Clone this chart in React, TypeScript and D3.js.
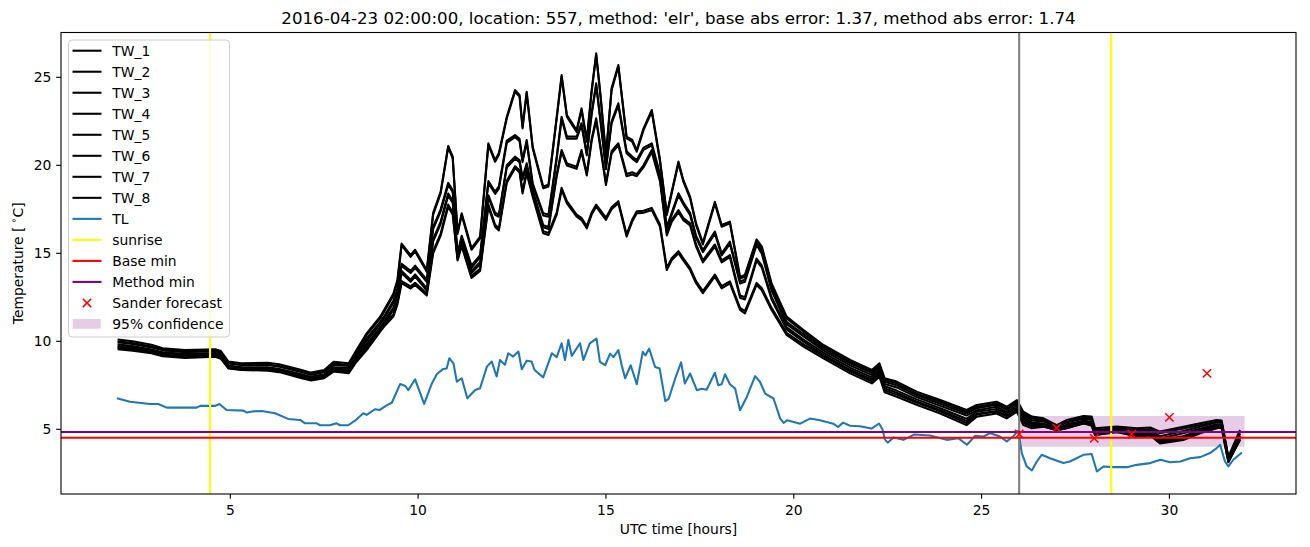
import React from "react";
import * as d3 from "d3";

// ---- data ----
const xTicks = [5, 10, 15, 20, 25, 30];
const yTicks = [5, 10, 15, 20, 25];

// TL (air temperature): [hour, value]
const tlData: [number, number][] = [
  [1.98, 6.76], [2.33, 6.57], [2.86, 6.44], [3.08, 6.44], [3.31, 6.23], [4.1, 6.23], [4.2, 6.33],
  [4.6, 6.33], [4.71, 6.44], [4.9, 6.1], [5.35, 6.06], [5.44, 5.95], [5.62, 6.02], [5.84, 6.04],
  [6.19, 5.91], [6.54, 5.59], [6.86, 5.53], [6.99, 5.34], [7.3, 5.34], [7.39, 5.23], [7.65, 5.23],
  [7.83, 5.34], [7.92, 5.23], [8.14, 5.23], [8.32, 5.49], [8.54, 5.91], [8.63, 5.82], [8.85, 6.14],
  [8.98, 6.1], [9.16, 6.36], [9.3, 6.51], [9.52, 7.57], [9.66, 7.46], [9.74, 7.23], [9.92, 7.84],
  [10.16, 6.44], [10.36, 7.57], [10.5, 8.14], [10.67, 8.43], [10.76, 8.45], [10.83, 9.04],
  [10.94, 8.75], [11.03, 7.71], [11.16, 7.9], [11.31, 6.76], [11.52, 7.23], [11.65, 7.33],
  [11.83, 8.56], [11.96, 8.85], [12.09, 8.0], [12.18, 8.94], [12.31, 8.66], [12.4, 9.32],
  [12.53, 9.13], [12.67, 9.42], [12.76, 8.41], [12.89, 8.9], [13.02, 8.85], [13.1, 8.37],
  [13.33, 7.95], [13.56, 9.32], [13.69, 9.1], [13.82, 9.89], [13.91, 8.94], [14.0, 10.08],
  [14.09, 9.17], [14.31, 9.89], [14.4, 8.94], [14.57, 9.88], [14.75, 10.15], [14.84, 8.83],
  [14.98, 8.64], [15.11, 9.3], [15.2, 9.1], [15.33, 9.5], [15.42, 8.64], [15.51, 7.9],
  [15.66, 8.64], [15.82, 7.56], [15.98, 9.4], [16.05, 9.2], [16.15, 9.58], [16.31, 8.54],
  [16.43, 8.45], [16.58, 6.6], [16.67, 6.73], [16.84, 7.86], [17.0, 8.81], [17.1, 7.6],
  [17.24, 8.17], [17.42, 7.22], [17.55, 7.31], [17.68, 7.25], [17.9, 8.21], [17.99, 7.5],
  [18.08, 7.56], [18.17, 8.13], [18.3, 7.56], [18.44, 7.31], [18.57, 6.08], [18.75, 6.84],
  [18.97, 8.02], [19.1, 7.7], [19.24, 7.03], [19.46, 6.75], [19.64, 5.61], [19.73, 5.36],
  [19.82, 5.51], [20.0, 5.42], [20.17, 5.32], [20.43, 5.61], [20.7, 5.51], [21.05, 5.32],
  [21.18, 5.13], [21.31, 5.38], [21.5, 5.2], [21.76, 5.17], [22.07, 5.04], [22.27, 5.33],
  [22.36, 5.0], [22.43, 4.41], [22.5, 4.24], [22.66, 4.54], [22.92, 4.4], [23.2, 4.7],
  [23.63, 4.65], [23.81, 4.55], [24.07, 4.4], [24.38, 4.5], [24.61, 4.12], [24.83, 4.63],
  [25.05, 4.59], [25.23, 4.78], [25.49, 4.59], [25.67, 4.31], [25.84, 4.59], [25.98, 4.93],
  [26.07, 3.65], [26.2, 2.89], [26.34, 2.66], [26.47, 3.17], [26.6, 3.55], [26.82, 3.36],
  [27.18, 3.08], [27.35, 3.17], [27.71, 3.55], [27.93, 3.6], [28.07, 2.6], [28.25, 2.89],
  [28.51, 2.85], [28.87, 2.85], [29.13, 2.98], [29.49, 3.08], [29.76, 3.27], [30.02, 3.13],
  [30.29, 3.17], [30.55, 3.36], [30.82, 3.42], [31.08, 3.65], [31.26, 3.93], [31.35, 4.12],
  [31.48, 3.17], [31.57, 2.89], [31.7, 3.27], [31.93, 3.68],
];

// TW profiles: [hour, top, upper-mid, lower-mid, bottom]
const twRows: [number, number, number, number, number][] = [
  [2.0, 10.1, 9.95, 9.75, 9.55], [2.4, 10.0, 9.85, 9.65, 9.47], [2.9, 9.8, 9.65, 9.5, 9.32],
  [3.2, 9.6, 9.5, 9.35, 9.15], [3.8, 9.5, 9.4, 9.25, 9.05], [4.6, 9.55, 9.45, 9.3, 9.12],
  [4.75, 9.45, 9.35, 9.2, 9.0], [4.95, 8.85, 8.75, 8.6, 8.46], [5.3, 8.75, 8.65, 8.5, 8.37],
  [6.0, 8.78, 8.65, 8.5, 8.33], [6.3, 8.7, 8.55, 8.4, 8.25], [6.9, 8.37, 8.25, 8.1, 7.9],
  [7.15, 8.22, 8.1, 7.95, 7.77], [7.5, 8.37, 8.25, 8.1, 7.9], [7.75, 8.84, 8.65, 8.45, 8.28],
  [8.15, 8.75, 8.6, 8.4, 8.18], [8.36, 9.5, 9.3, 9.05, 8.84], [8.63, 10.45, 10.15, 9.85, 9.5],
  [8.99, 11.4, 11.1, 10.8, 10.55], [9.12, 11.87, 11.5, 11.2, 10.9], [9.34, 12.7, 12.3, 11.9, 11.4],
  [9.45, 13.5, 13.0, 12.6, 12.1], [9.56, 15.55, 14.4, 14.0, 13.3], [9.8, 14.9, 14.0, 13.5, 13.0],
  [9.92, 15.2, 14.3, 13.8, 13.2], [10.23, 14.05, 13.5, 13.0, 12.6], [10.4, 17.3, 16.5, 15.8, 15.0],
  [10.6, 18.5, 17.5, 16.8, 16.0], [10.8, 21.1, 19.0, 18.4, 17.65], [10.92, 20.5, 18.6, 18.0, 17.2],
  [11.05, 16.2, 15.0, 14.8, 14.6], [11.16, 17.27, 16.0, 15.7, 15.4], [11.42, 15.3, 14.3, 14.0, 13.6],
  [11.65, 15.95, 14.9, 14.5, 14.0], [11.87, 21.25, 19.1, 18.3, 17.65], [12.05, 20.3, 18.5, 17.3, 16.5],
  [12.15, 20.7, 18.8, 17.2, 16.3], [12.36, 22.76, 21.4, 20.0, 19.0], [12.58, 24.28, 21.72, 20.49, 19.83],
  [12.7, 24.0, 21.5, 20.3, 19.6], [12.78, 22.2, 20.3, 19.3, 18.4], [12.89, 24.18, 21.44, 20.11, 19.54],
  [13.05, 21.06, 18.98, 18.6, 18.22], [13.33, 18.79, 17.27, 16.6, 16.14], [13.47, 18.9, 17.2, 16.5, 16.04],
  [13.69, 22.76, 20.5, 19.5, 17.2], [13.82, 25.13, 22.76, 20.87, 18.6], [13.96, 22.86, 21.63, 20.11, 17.84],
  [14.22, 22.0, 21.63, 19.92, 17.08], [14.35, 23.24, 22.39, 20.87, 16.89], [14.49, 21.44, 20.68, 19.54, 16.42],
  [14.62, 24.28, 23.0, 21.5, 17.2], [14.74, 26.36, 24.66, 22.67, 17.65], [14.86, 23.9, 22.5, 21.0, 17.3],
  [15.0, 20.6, 19.9, 19.0, 16.9], [15.15, 24.37, 22.5, 20.8, 17.5], [15.33, 25.7, 23.52, 21.25, 17.84],
  [15.55, 21.63, 20.8, 19.5, 15.95], [15.7, 21.44, 20.5, 19.6, 16.8], [15.82, 20.87, 20.3, 19.5, 17.27],
  [16.0, 22.1, 21.0, 20.0, 17.3], [16.22, 23.14, 21.25, 20.87, 17.46], [16.44, 20.3, 19.5, 19.2, 16.51],
  [16.62, 17.27, 16.51, 16.14, 14.05], [16.75, 18.5, 17.3, 16.9, 14.6], [16.93, 20.21, 18.41, 17.46, 15.0],
  [17.06, 19.17, 17.9, 17.0, 14.6], [17.24, 18.22, 17.3, 16.7, 14.05], [17.4, 16.7, 16.0, 15.5, 13.3],
  [17.58, 15.6, 15.19, 14.6, 12.73], [17.9, 17.93, 16.23, 15.5, 13.67], [18.08, 16.61, 15.0, 14.6, 13.01],
  [18.3, 16.8, 15.66, 14.9, 13.29], [18.57, 13.67, 13.4, 12.6, 11.78], [18.7, 13.77, 13.5, 12.5, 11.59],
  [19.01, 15.79, 15.6, 14.7, 13.2], [19.15, 15.38, 15.1, 14.3, 12.9], [19.41, 13.29, 13.0, 12.5, 11.78],
  [19.81, 11.4, 11.1, 10.8, 10.36], [20.26, 10.64, 10.4, 10.1, 9.7], [20.79, 9.79, 9.6, 9.35, 9.03],
  [21.5, 8.94, 8.75, 8.5, 8.18], [22.08, 8.37, 8.2, 7.95, 7.61], [22.28, 8.75, 8.55, 8.3, 7.99],
  [22.42, 7.9, 7.7, 7.45, 7.1], [22.74, 7.71, 7.5, 7.2, 6.85], [23.27, 7.14, 6.95, 6.7, 6.4],
  [23.9, 6.66, 6.45, 6.2, 5.9], [24.6, 6.1, 5.9, 5.6, 5.24], [24.87, 6.38, 6.2, 6.0, 5.72],
  [25.4, 6.57, 6.4, 6.15, 5.9], [25.67, 6.28, 6.1, 5.9, 5.62], [25.94, 6.66, 6.5, 6.25, 6.0],
  [26.11, 6.0, 5.8, 5.55, 5.24], [26.34, 5.72, 5.5, 5.3, 5.06], [26.65, 5.62, 5.45, 5.3, 5.15],
  [27.0, 5.24, 5.15, 5.05, 4.96], [27.27, 5.53, 5.4, 5.2, 5.06], [27.71, 5.76, 5.6, 5.45, 5.34],
  [27.93, 5.72, 5.55, 5.4, 5.2], [28.02, 5.06, 4.95, 4.8, 4.68], [28.6, 5.15, 5.05, 4.95, 4.87],
  [29.13, 5.06, 4.9, 4.75, 4.58], [29.49, 5.1, 4.95, 4.8, 4.65], [29.75, 4.87, 4.6, 4.4, 4.2],
  [30.37, 5.15, 4.9, 4.6, 4.39], [30.82, 5.34, 5.15, 4.95, 4.77], [31.26, 5.53, 5.4, 5.2, 5.06],
  [31.39, 5.5, 5.4, 5.2, 5.1], [31.57, 3.45, 3.35, 3.25, 3.16], [31.88, 4.96, 4.75, 4.55, 4.39],
];

const twNames = ["TW_1", "TW_2", "TW_3", "TW_4", "TW_5", "TW_6", "TW_7", "TW_8"];
const twProfile = [1, 1, 2, 2, 3, 3, 4, 4];
const twOffset = [0, -0.1, 0, -0.12, 0, -0.12, 0.12, 0];

const sunriseHours = [4.46, 28.45];
const forecastStartHour = 26.0;
const baseMin = 4.52;
const methodMin = 4.85;
const forecastHours = [26, 27, 28, 29, 30, 31];
const forecastValues = [4.73, 5.07, 4.49, 4.73, 5.68, 8.18];
const confHours = [26.0, 32.0];
const confLow = 4.01;
const confHigh = 5.76;

const legendItems = [
  ...twNames.map((n) => ({ label: n, kind: "line", color: "#000000" })),
  { label: "TL", kind: "line", color: "#1f77b4" },
  { label: "sunrise", kind: "line", color: "#ffff00" },
  { label: "Base min", kind: "line", color: "#ff0000" },
  { label: "Method min", kind: "line", color: "#800080" },
  { label: "Sander forecast", kind: "marker", color: "#ff0000" },
  { label: "95% confidence", kind: "patch", color: "#800080" },
];

const W = 1310;
const H = 547;
const L = 61, R = 1296, T = 32.5, B = 494;
const FONT = "DejaVu Sans, sans-serif";

export default function App() {
  const x = d3.scaleLinear().domain([0.493, 33.37]).range([L, R]);
  const y = d3.scaleLinear().domain([1.324, 27.545]).range([B, T]);
  const line = d3
    .line<[number, number]>()
    .x((d) => x(d[0]))
    .y((d) => y(d[1]));

  const twSeries = twNames.map((_, i) =>
    twRows.map((r) => [r[0], r[twProfile[i]] + twOffset[i]] as [number, number])
  );

  const area = d3
    .area<number>()
    .x((d) => x(d))
    .y0(y(confLow))
    .y1(y(confHigh));

  const xs = 4.17;

  return (
    <svg
      width={W}
      height={H}
      style={{ position: "absolute", left: 0, top: 0, background: "#fff" }}
      fontFamily={FONT}
    >
      <defs>
        <clipPath id="plotclip">
          <rect x={L} y={T} width={R - L} height={B - T} />
        </clipPath>
      </defs>
      <rect x={0} y={0} width={W} height={H} fill="#fff" />
      <g clipPath="url(#plotclip)">
        <path d={area(confHours) || ""} fill="#800080" fillOpacity={0.2} />
        {twSeries.map((s, i) => (
          <path
            key={i}
            d={line(s) || ""}
            fill="none"
            stroke="#000"
            strokeWidth={2.08}
            strokeLinejoin="round"
          />
        ))}
        <path d={line(tlData) || ""} fill="none" stroke="#1f77b4" strokeWidth={2.08} strokeLinejoin="round" />
        <line x1={x(forecastStartHour)} x2={x(forecastStartHour)} y1={T} y2={B} stroke="#808080" strokeWidth={2.08} />
        {sunriseHours.map((h, i) => (
          <line key={i} x1={x(h)} x2={x(h)} y1={T} y2={B} stroke="#ffff00" strokeWidth={2.08} />
        ))}
        <line x1={L} x2={R} y1={y(baseMin)} y2={y(baseMin)} stroke="#ff0000" strokeWidth={2.08} />
        <line x1={L} x2={R} y1={y(methodMin)} y2={y(methodMin)} stroke="#800080" strokeWidth={2.08} />
        {forecastHours.map((h, i) => {
          const cx = x(h);
          const cy = y(forecastValues[i]);
          return (
            <g key={i} stroke="#ff0000" strokeWidth={1.5}>
              <line x1={cx - xs} y1={cy - xs} x2={cx + xs} y2={cy + xs} />
              <line x1={cx - xs} y1={cy + xs} x2={cx + xs} y2={cy - xs} />
            </g>
          );
        })}
      </g>

      {/* axes frame */}
      <rect x={L} y={T} width={R - L} height={B - T} fill="none" stroke="#000" strokeWidth={1.1} />

      {/* x ticks */}
      {xTicks.map((t) => (
        <g key={t}>
          <line x1={x(t)} x2={x(t)} y1={B} y2={B + 4.86} stroke="#000" strokeWidth={1.1} />
          <text x={x(t)} y={B + 20.5} fontSize={13.89} textAnchor="middle" fill="#000">
            {t}
          </text>
        </g>
      ))}
      {/* y ticks */}
      {yTicks.map((t) => (
        <g key={t}>
          <line x1={L - 4.86} x2={L} y1={y(t)} y2={y(t)} stroke="#000" strokeWidth={1.1} />
          <text x={L - 9.7} y={y(t) + 5} fontSize={13.89} textAnchor="end" fill="#000">
            {t}
          </text>
        </g>
      ))}

      <text x={(L + R) / 2} y={534} fontSize={13.89} textAnchor="middle" fill="#000">
        UTC time [hours]
      </text>
      <text
        transform={`translate(22.5, ${(T + B) / 2}) rotate(-90)`}
        fontSize={13.89}
        textAnchor="middle"
        fill="#000"
      >
        Temperature [
        <tspan fontSize={9.7} dy={-5.5}> ∘</tspan>
        <tspan dy={5.5}>C]</tspan>
      </text>
      <text x={(L + R) / 2} y={24.2} fontSize={16.67} textAnchor="middle" fill="#000">
        2016-04-23 02:00:00, location: 557, method: 'elr', base abs error: 1.37, method abs error: 1.74
      </text>

      {/* legend */}
      <g>
        <rect
          x={68.5}
          y={40}
          width={161}
          height={297}
          rx={3.5}
          fill="#fff"
          fillOpacity={0.8}
          stroke="#cccccc"
          strokeWidth={1}
        />
        {legendItems.map((it, i) => {
          const cy = 50.7 + i * 21.02;
          let sym: React.ReactNode = null;
          if (it.kind === "line") {
            sym = <line x1={72.5} x2={101.5} y1={cy} y2={cy} stroke={it.color} strokeWidth={2.08} />;
          } else if (it.kind === "marker") {
            const cx = 87;
            sym = (
              <g stroke={it.color} strokeWidth={1.5}>
                <line x1={cx - xs} y1={cy - xs} x2={cx + xs} y2={cy + xs} />
                <line x1={cx - xs} y1={cy + xs} x2={cx + xs} y2={cy - xs} />
              </g>
            );
          } else {
            sym = <rect x={72.7} y={cy - 4.9} width={28} height={9.7} fill={it.color} fillOpacity={0.2} />;
          }
          return (
            <g key={i}>
              {sym}
              <text x={112.3} y={cy + 5} fontSize={13.89} fill="#000">
                {it.label}
              </text>
            </g>
          );
        })}
      </g>
    </svg>
  );
}
